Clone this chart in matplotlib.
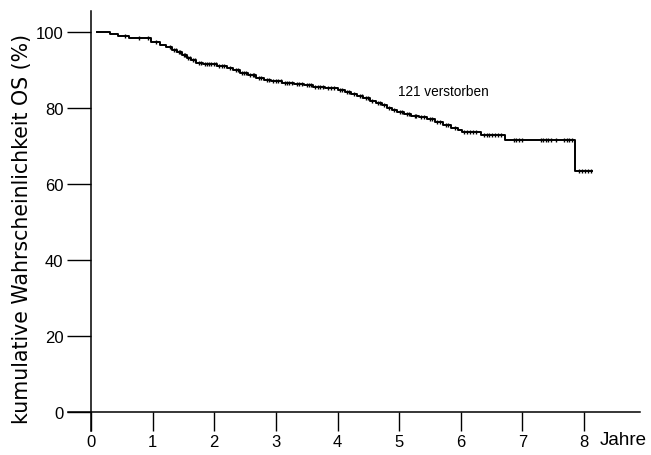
import numpy as np
import matplotlib
matplotlib.use("Agg")
import matplotlib.pyplot as plt

plt.rcParams["font.family"] = ["Liberation Sans", "DejaVu Sans"]

# Kaplan-Meier Stufen (Jahre, kumulative Wahrscheinlichkeit %)
zeit_start = 0.1
zeit_ende = 8.13
ereignis_zeit = [0.31, 0.44, 0.62, 0.97, 1.12, 1.22, 1.32, 1.40, 1.47, 1.55,
                 1.62, 1.70, 1.82, 2.05, 2.20, 2.30, 2.42, 2.55, 2.68, 2.80,
                 2.92, 3.10, 3.30, 3.45, 3.60, 3.80, 4.00, 4.12, 4.22, 4.32,
                 4.42, 4.52, 4.62, 4.72, 4.80, 4.88, 4.97, 5.08, 5.20, 5.32,
                 5.45, 5.58, 5.72, 5.85, 5.95, 6.02, 6.33, 6.72, 7.86]
ueberleben = [99.4, 98.8, 98.3, 97.4, 96.6, 96.0, 95.3, 94.6, 93.9, 93.1,
              92.5, 91.9, 91.5, 91.0, 90.4, 89.9, 89.3, 88.7, 88.0, 87.4,
              87.0, 86.6, 86.2, 85.9, 85.5, 85.2, 84.8, 84.3, 83.7, 83.1,
              82.5, 81.9, 81.3, 80.7, 80.1, 79.5, 78.9, 78.4, 78.0, 77.5,
              77.0, 76.3, 75.6, 74.8, 74.2, 73.6, 73.0, 71.6, 63.5]

# zensierte Beobachtungen
zensiert = [0.55, 0.78, 0.92, 1.05, 1.28, 1.35, 1.38, 1.42, 1.45, 1.50, 1.53,
            1.58, 1.60, 1.65, 1.68, 1.75, 1.78, 1.85, 1.88, 1.92, 1.95, 2.00,
            2.03, 2.08, 2.12, 2.16, 2.25, 2.35, 2.38, 2.45, 2.48, 2.52, 2.58,
            2.62, 2.65, 2.72, 2.76, 2.85, 2.88, 2.95, 3.00, 3.04, 3.08, 3.14,
            3.18, 3.22, 3.26, 3.35, 3.38, 3.42, 3.50, 3.54, 3.57, 3.64, 3.68,
            3.72, 3.76, 3.85, 3.90, 3.95, 4.04, 4.08, 4.15, 4.18, 4.26, 4.36,
            4.39, 4.46, 4.49, 4.56, 4.66, 4.69, 4.76, 4.84, 4.92, 5.02, 5.05,
            5.12, 5.16, 5.25, 5.28, 5.36, 5.40, 5.50, 5.53, 5.62, 5.66, 5.76,
            5.80, 5.90, 6.05, 6.10, 6.15, 6.20, 6.25, 6.38, 6.42, 6.46, 6.50,
            6.55, 6.60, 6.65, 6.86, 6.90, 6.95, 7.00, 7.30, 7.34, 7.38, 7.42,
            7.47, 7.55, 7.68, 7.72, 7.76, 7.80, 7.92, 7.97, 8.02, 8.07, 8.12]

x_ticks = [0, 1, 2, 3, 4, 5, 6, 7, 8]
y_ticks = [0, 20, 40, 60, 80, 100]

# Stufenkurve aufbauen
t = np.array([zeit_start] + ereignis_zeit + [zeit_ende])
s = np.array([100.0] + ueberleben + [ueberleben[-1]])

idx = np.searchsorted(t, np.array(zensiert), side="right") - 1
s_zens = s[idx]

fig = plt.figure(figsize=(6.51, 4.56), dpi=100)
ax = fig.add_axes([68 / 651, 24 / 456, (640 - 68) / 651, (432 - 12) / 456])

ax.step(t, s, where="post", color="black", linewidth=1.4)
ax.plot(zensiert, s_zens, linestyle="none", marker="|", markersize=3.5,
        markeredgewidth=1.0, color="black")

ax.set_xlim(-0.375, 8.91)
ax.set_ylim(-5.0, 105.5)

for side in ["top", "right"]:
    ax.spines[side].set_visible(False)
ax.spines["left"].set_position(("data", 0))
ax.spines["bottom"].set_position(("data", 0))
ax.spines["left"].set_linewidth(1.1)
ax.spines["bottom"].set_linewidth(1.1)

ax.set_xticks(x_ticks)
ax.set_yticks(y_ticks)
ax.tick_params(axis="x", direction="out", length=13.5, width=1.0, pad=2.5, labelsize=12)
ax.tick_params(axis="y", direction="out", length=17, width=1.0, pad=3, labelsize=12)

ax.text(4.98, 84.5, "121 verstorben", fontsize=9.8, ha="left", va="center")

fig.text(600 / 651, 1 - 441 / 456, "Jahre", fontsize=13.5, ha="left", va="center")
fig.text(22 / 651, 1 - 229 / 456, "kumulative Wahrscheinlichkeit OS (%)",
         family="DejaVu Sans", fontsize=14.8, rotation=90, ha="center", va="center")

fig.savefig("out.png", dpi=100)
